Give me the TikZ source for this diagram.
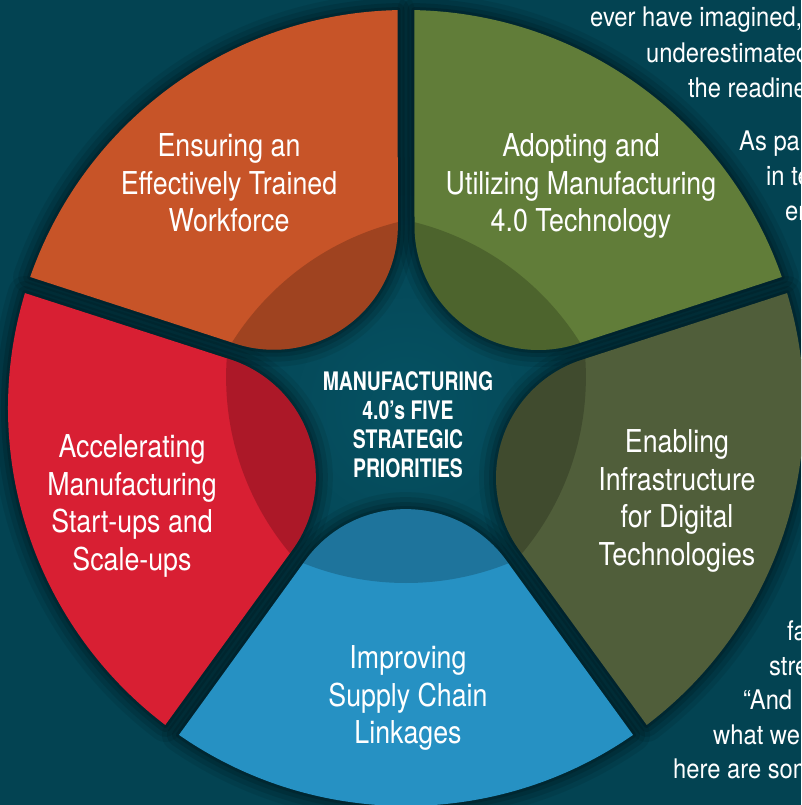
\documentclass[tikz,border=0pt]{standalone}
\usepackage{fontspec}
\setmainfont{TeX Gyre Heros}[FakeStretch=0.85]
\newfontfamily\hubfont{TeX Gyre Heros}[FakeStretch=0.76]
\newfontfamily\marginfont{TeX Gyre Heros}[FakeStretch=0.88]
\usetikzlibrary{calc}
\definecolor{bgteal}{RGB}{3,67,82}
\definecolor{hubteal}{RGB}{6,82,99}
\definecolor{rust}{RGB}{199,84,40}
\definecolor{leaf}{RGB}{97,125,57}
\definecolor{moss}{RGB}{80,94,58}
\definecolor{scarlet}{RGB}{216,31,51}
\definecolor{sky}{RGB}{38,145,195}
\newcommand{\petal}[1]{(#1-34.78:398) arc[start angle=#1-34.78,end angle=#1+34.78,radius=398] -- ($(#1+36:182)+(#1-54:8.5)$) arc[start angle=#1+126,end angle=#1+234,radius=124] -- cycle}
\tikzset{
  petaltext/.style={text=white,align=center,font=\fontsize{31.5}{37.5}\selectfont},
  hubtext/.style={text=white,align=center,font=\hubfont\bfseries\fontsize{25.5}{29}\selectfont},
  margintext/.style={text=white,anchor=base west,inner sep=0pt,font=\marginfont\fontsize{27}{35}\selectfont},
}
\begin{document}
\begin{tikzpicture}[x=1pt,y=1pt]
\clip (-406,-397) rectangle (395,408);
\fill[bgteal] (-406,-397) rectangle (395,408);
\shade[inner color=hubteal,outer color=bgteal] (0,0) circle (220);
\foreach \a in {126,54,342,270,198}
  \foreach \w/\o in {34/0.08,24/0.1,14/0.12,6/0.15}
    \draw[black,opacity=\o,line width=\w pt,line join=round] \petal{\a};
\foreach \a/\c in {126/rust,54/leaf,342/moss,270/sky,198/scarlet}{
  \fill[\c] \petal{\a};
  \begin{scope}
    \clip \petal{\a};
    \fill[black,opacity=0.2] (\a+180:100) circle (275);
  \end{scope}
}
\node[petaltext] (train) at (-177,225) {Ensuring an\\Effectively Trained\\Workforce};
\node[petaltext] (adopt) at (175,222) {Adopting and\\Utilizing Manufacturing\\4.0 Technology};
\node[petaltext] (startup) at (-274,-98) {Accelerating\\Manufacturing\\Start-ups and\\Scale-ups};
\node[petaltext] (infra) at (271,-93) {Enabling\\Infrastructure\\for Digital\\Technologies};
\node[petaltext] (supply) at (2,-290) {Improving\\Supply Chain\\Linkages};
\node[hubtext] (hub) at (2,-17) {MANUFACTURING\\4.0’s FIVE\\STRATEGIC\\PRIORITIES};
\node[margintext] (m1) at (184,381) {ever have imagined,};
\node[margintext] (m2) at (240,345) {underestimated};
\node[margintext] (m3) at (282,310) {the readines};
\node[margintext] (m4) at (333,257) {As pa};
\node[margintext] (m5) at (360,222) {in te};
\node[margintext] (m6) at (379,187) {er};
\node[margintext] (m7) at (381,-232) {fa};
\node[margintext] (m8) at (363,-267) {stre};
\node[margintext] (m9) at (337,-301) {“And};
\node[margintext] (m10) at (307,-336) {what we};
\node[margintext] (m11) at (267,-370) {here are som};
\end{tikzpicture}
\end{document}
